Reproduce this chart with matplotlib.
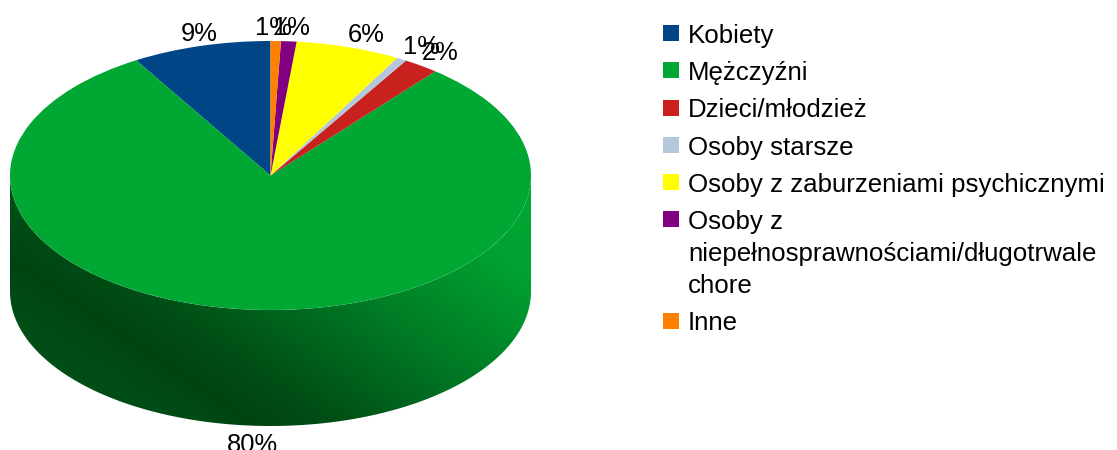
import numpy as np
import matplotlib
matplotlib.use("Agg")
import matplotlib.pyplot as plt
from matplotlib.colors import LinearSegmentedColormap
from matplotlib.patches import PathPatch, Rectangle
from matplotlib.path import Path

categories = ["Kobiety", "Mężczyźni", "Dzieci/młodzież", "Osoby starsze",
              "Osoby z zaburzeniami psychicznymi",
              "Osoby z\nniepełnosprawnościami/długotrwale\nchore", "Inne"]
values = [8.63, 80.47, 2.2, 0.62, 6.48, 0.96, 0.64]
colors = ["#004586", "#00A833", "#C9211E", "#B4C7DC", "#FFFF00", "#800080", "#FF8000"]

W, H = 1117, 450
FONT = "Liberation Sans"
FS_LEG = 18.6
FS_LAB = 18.4

# layout, in picture pixels (x centre, baseline)
label_pos = [(199.5, 41), (252, 452), (440, 60), (421, 54), (366.5, 42), (291, 35), (273, 35)]
legend_square_y = [33, 70.3, 107.7, 145, 182, 219.3, 320.7]
legend_baselines = [[43], [80], [117], [155], [192], [229, 261, 293], [330]]

fig = plt.figure(figsize=(W / 100, H / 100), dpi=100)

cx0, cx1 = 10, 531
top, ell_bottom, wall_bottom = 41, 310, 426
ry_px = (ell_bottom - top) / 2
depth = (wall_bottom - ell_bottom) / ry_px
ax = fig.add_axes([cx0 / W, 1 - wall_bottom / H, (cx1 - cx0) / W, (wall_bottom - top) / H])
wedges, _ = ax.pie(values, colors=colors, startangle=90, counterclock=True, radius=1,
                   wedgeprops=dict(linewidth=0))
ax.set_aspect("auto")
ax.axis("off")

# side wall with shading
th = np.linspace(np.pi, 2 * np.pi, 300)
xs = np.concatenate([np.cos(th), np.cos(th[::-1])])
ys = np.concatenate([np.sin(th) - depth, np.sin(th[::-1])])
verts = np.column_stack([xs, ys])
clip = PathPatch(Path(np.vstack([verts, verts[0]]), closed=True), transform=ax.transData,
                 fc="none", ec="none")
ax.add_patch(clip)
VMAX = 1.2
cmap = LinearSegmentedColormap.from_list("wall", [
    (0.0, "#005a1b"), (0.27 / VMAX, "#004a15"), (0.33 / VMAX, "#004312"),
    (0.45 / VMAX, "#004f16"), (0.62 / VMAX, "#006a20"), (0.72 / VMAX, "#007a25"),
    (1.0 / VMAX, "#00a231"), (1.0, "#00a833")])
gx, gy = np.meshgrid(np.linspace(-1, 1, 400), np.linspace(-1 - depth, 0, 300))
t = (gx + 1) / 2 * 0.7 + (gy + 1 + depth) / (1 + depth) * 0.5
im = ax.imshow(t, extent=(-1, 1, -1 - depth, 0), origin="lower", cmap=cmap, vmin=0, vmax=VMAX,
               aspect="auto", zorder=0.5)
im.set_clip_path(clip)
for w in wedges:
    w.set_zorder(2)
ax.set_xlim(-1, 1)
ax.set_ylim(-1 - depth, 1)

# overlay in pixel coordinates
ov = fig.add_axes([0, 0, 1, 1])
ov.set_xlim(0, W)
ov.set_ylim(H, 0)
ov.axis("off")
ov.patch.set_alpha(0)

for v, (x, y) in zip(values, label_pos):
    ov.text(x, y, f"{round(v)}%", ha="center", va="baseline", family=FONT, fontsize=FS_LAB,
            color="black")

for name, col, sy, bases in zip(categories, colors, legend_square_y, legend_baselines):
    ov.add_patch(Rectangle((663, sy - 8), 16, 16, fc=col, ec="none"))
    for line, by in zip(name.split("\n"), bases):
        ov.text(688, by, line, ha="left", va="baseline", family=FONT, fontsize=FS_LEG, color="black")

fig.savefig("out.png", dpi=100)
